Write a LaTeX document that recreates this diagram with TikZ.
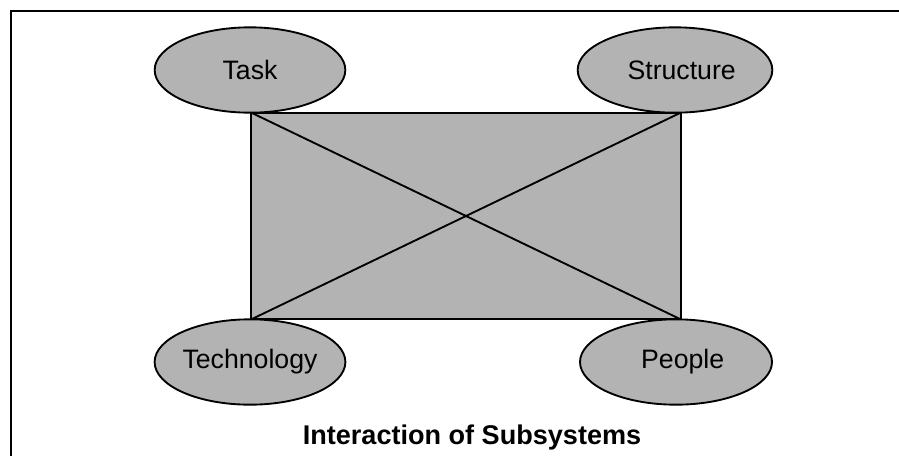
\documentclass[tikz,border=0pt]{standalone}
\usepackage{fontspec}
\setmainfont{Liberation Sans}
\usepackage{tikz}
\usetikzlibrary{calc, positioning, shapes.geometric}
\definecolor{subgray}{RGB}{179,179,179}
\tikzset{
    subsys/.style={ellipse, draw=black, line width=1.4pt, fill=subgray, inner sep=0pt, minimum width=143pt, minimum height=64pt, font=\fontsize{20}{22}\selectfont},
    core/.style={rectangle, draw=black, line width=1.4pt, fill=subgray, inner sep=0pt, minimum width=322.5pt, minimum height=154.5pt},
    link/.style={draw=black, line width=1.4pt},
    frame/.style={draw=black, line width=2pt},
    caption/.style={font=\fontsize{20.3}{24}\selectfont\bfseries}
}

\begin{document}
\begin{tikzpicture}[x=0.75pt, y=-0.75pt]
    \useasboundingbox (0,0) rectangle (899,455);

    % Frame
    \draw[frame] (11,456) -- (11,11) -- (900,11);

    % Central block with diagonals
    \node[core] (core) at (466,216) {};
    \draw[link] (core.north west) -- (core.south east);
    \draw[link] (core.south west) -- (core.north east);

    % Subsystems
    \node[subsys] (task) at (250,70) {Task};
    \node[subsys, minimum width=146pt] (structure) at (675,70) {\hspace*{10pt}Structure};
    \node[subsys] (technology) at (250,362) {Technology};
    \node[subsys, minimum width=144pt] (people) at (676,362) {\hspace*{10pt}People};

    \node[caption] (title) at (472,437) {Interaction of Subsystems};
\end{tikzpicture}
\end{document}
